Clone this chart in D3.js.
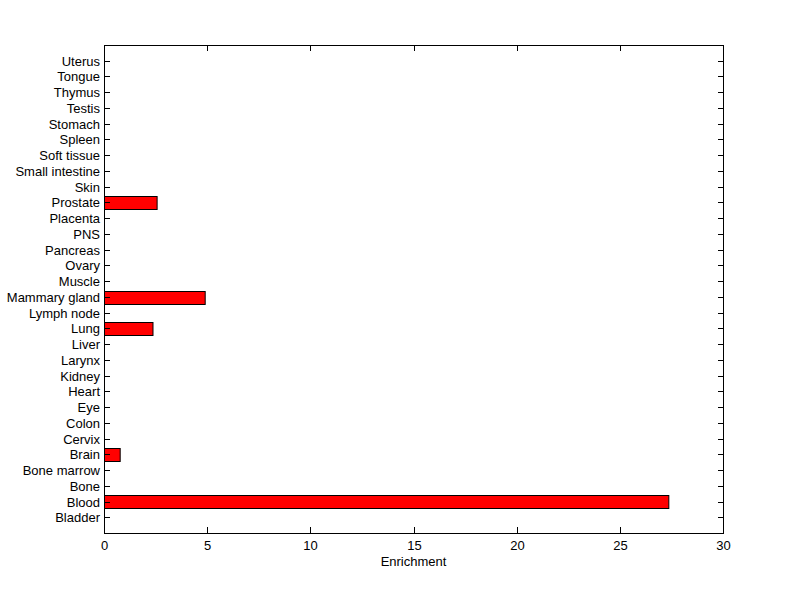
<!DOCTYPE html>
<html>
<head>
<meta charset="utf-8">
<script src="https://cdnjs.cloudflare.com/ajax/libs/d3/7.8.5/d3.min.js"></script>
<style>
  body { margin: 0; background: #fff; }
  text { font-family: "Liberation Sans", Arial, sans-serif; font-size: 13px; fill: #000; }
</style>
</head>
<body>
<div id="chart"></div>
<script>
var tissues = ["Bladder","Blood","Bone","Bone marrow","Brain","Cervix","Colon","Eye","Heart","Kidney",
  "Larynx","Liver","Lung","Lymph node","Mammary gland","Muscle","Ovary","Pancreas","PNS","Placenta",
  "Prostate","Skin","Small intestine","Soft tissue","Spleen","Stomach","Testis","Thymus","Tongue","Uterus"];
var enrichment = [0,27.35,0,0,0.76,0,0,0,0,0,
  0,0,2.35,0,4.88,0,0,0,0,0,
  2.55,0,0,0,0,0,0,0,0,0];
var xTicks = [0,5,10,15,20,25,30];

var W = 800, H = 599;
var pLeft = 104, pRight = 723, pTop = 45, pBottom = 533;

var svg = d3.select("#chart").append("svg")
  .attr("width", W).attr("height", H);

svg.append("rect").attr("width", W).attr("height", H).attr("fill", "#fff");

var x = d3.scaleLinear().domain([0, 30]).range([pLeft, pRight]);
var y = d3.scaleLinear().domain([0, tissues.length + 1]).range([pBottom, pTop]);
var barH = (y(0) - y(1)) * 0.8;

// bars
svg.selectAll("rect.bar").data(enrichment).enter().append("rect")
  .attr("class", "bar")
  .filter(function(d){ return d > 0; })
  .attr("x", x(0) + 0.5)
  .attr("y", function(d){ return Math.round(y(enrichment.indexOf(d) + 1) - barH / 2) + 0.5; })
  .attr("width", function(d){ return x(d) - x(0); })
  .attr("height", Math.round(barH))
  .attr("fill", "#ff0000")
  .attr("stroke", "#000")
  .attr("stroke-width", 1);

// axes box
svg.append("rect")
  .attr("x", pLeft + 0.5).attr("y", pTop + 0.5)
  .attr("width", pRight - pLeft).attr("height", pBottom - pTop)
  .attr("fill", "none").attr("stroke", "#000").attr("stroke-width", 1);

var tl = 6;
// y ticks (both sides, inward)
tissues.forEach(function(t, i){
  var yy = Math.round(y(i + 1)) + 0.5;
  svg.append("line").attr("x1", pLeft).attr("x2", pLeft + tl).attr("y1", yy).attr("y2", yy).attr("stroke", "#000");
  svg.append("line").attr("x1", pRight - tl + 1).attr("x2", pRight + 1).attr("y1", yy).attr("y2", yy).attr("stroke", "#000");
  svg.append("text").attr("x", pLeft - 4).attr("y", yy).attr("dy", "0.35em")
    .attr("text-anchor", "end").text(t);
});

// x ticks (top and bottom, inward)
xTicks.forEach(function(v){
  var xx = Math.round(x(v)) + 0.5;
  svg.append("line").attr("x1", xx).attr("x2", xx).attr("y1", pBottom).attr("y2", pBottom - tl).attr("stroke", "#000");
  svg.append("line").attr("x1", xx).attr("x2", xx).attr("y1", pTop).attr("y2", pTop + tl).attr("stroke", "#000");
  svg.append("text").attr("x", xx).attr("y", pBottom + 17)
    .attr("text-anchor", "middle").text(v);
});

svg.append("text").attr("x", (pLeft + pRight) / 2).attr("y", 566)
  .attr("text-anchor", "middle").text("Enrichment");
</script>
</body>
</html>
